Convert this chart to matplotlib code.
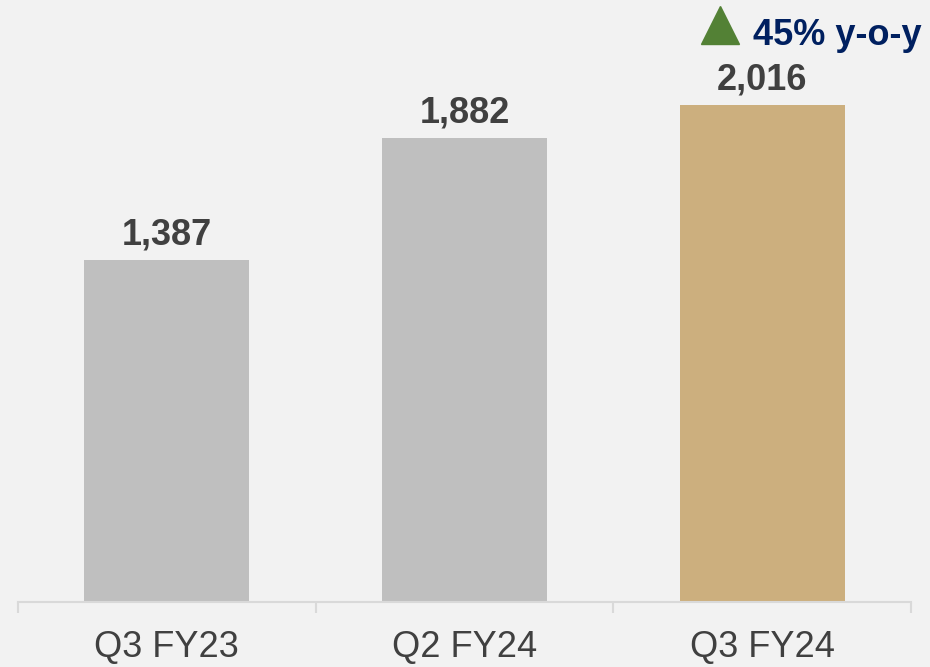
import matplotlib.pyplot as plt

categories = ["Q3 FY23", "Q2 FY24", "Q3 FY24"]
values = [1387, 1882, 2016]
labels = ["1,387", "1,882", "2,016"]
growth_text = "45% y-o-y"

plt.rcParams['font.family'] = ['Liberation Sans', 'DejaVu Sans']

bg = "#f2f2f2"
bar_colors = ["#bfbfbf", "#bfbfbf", "#ccaf7e"]

fig = plt.figure(figsize=(9.3, 6.67), dpi=100, facecolor=bg)
ax = fig.add_axes([18 / 930, 65 / 667, (911 - 18) / 930, 602 / 667])
ax.set_facecolor(bg)

x = range(len(categories))
bars = ax.bar(x, values, width=0.555, color=bar_colors, zorder=2)
ax.bar_label(bars, labels=labels, padding=5, fontsize=26, fontweight='bold', color='#404040')

ax.set_xlim(-0.5, 2.5)
ax.set_ylim(0, 2441)

# axis line with category separators
for s in ['top', 'right', 'left']:
    ax.spines[s].set_visible(False)
ax.spines['bottom'].set_color('#d9d9d9')
ax.spines['bottom'].set_linewidth(1.5)
ax.set_yticks([])
ax.set_xticks([-0.5, 0.5, 1.5, 2.5], minor=False)
ax.set_xticklabels([])
ax.tick_params(axis='x', which='major', length=8, width=1.5, color='#d9d9d9')
ax.set_xticks(list(x), minor=True)
ax.set_xticklabels(categories, minor=True, fontsize=26, color='#404040')
ax.tick_params(axis='x', which='minor', length=0, pad=20)

# growth annotation
fig.lines.append(plt.Line2D([719.5 / 930], [1 - 24.5 / 667], marker='^', markersize=27,
                            color='#538135', transform=fig.transFigure))
fig.text(753 / 930, 1 - 45 / 667, growth_text, fontsize=26, fontweight='bold',
         color='#002060', ha='left', va='baseline')

fig.savefig("out.png", dpi=100, facecolor=bg)
